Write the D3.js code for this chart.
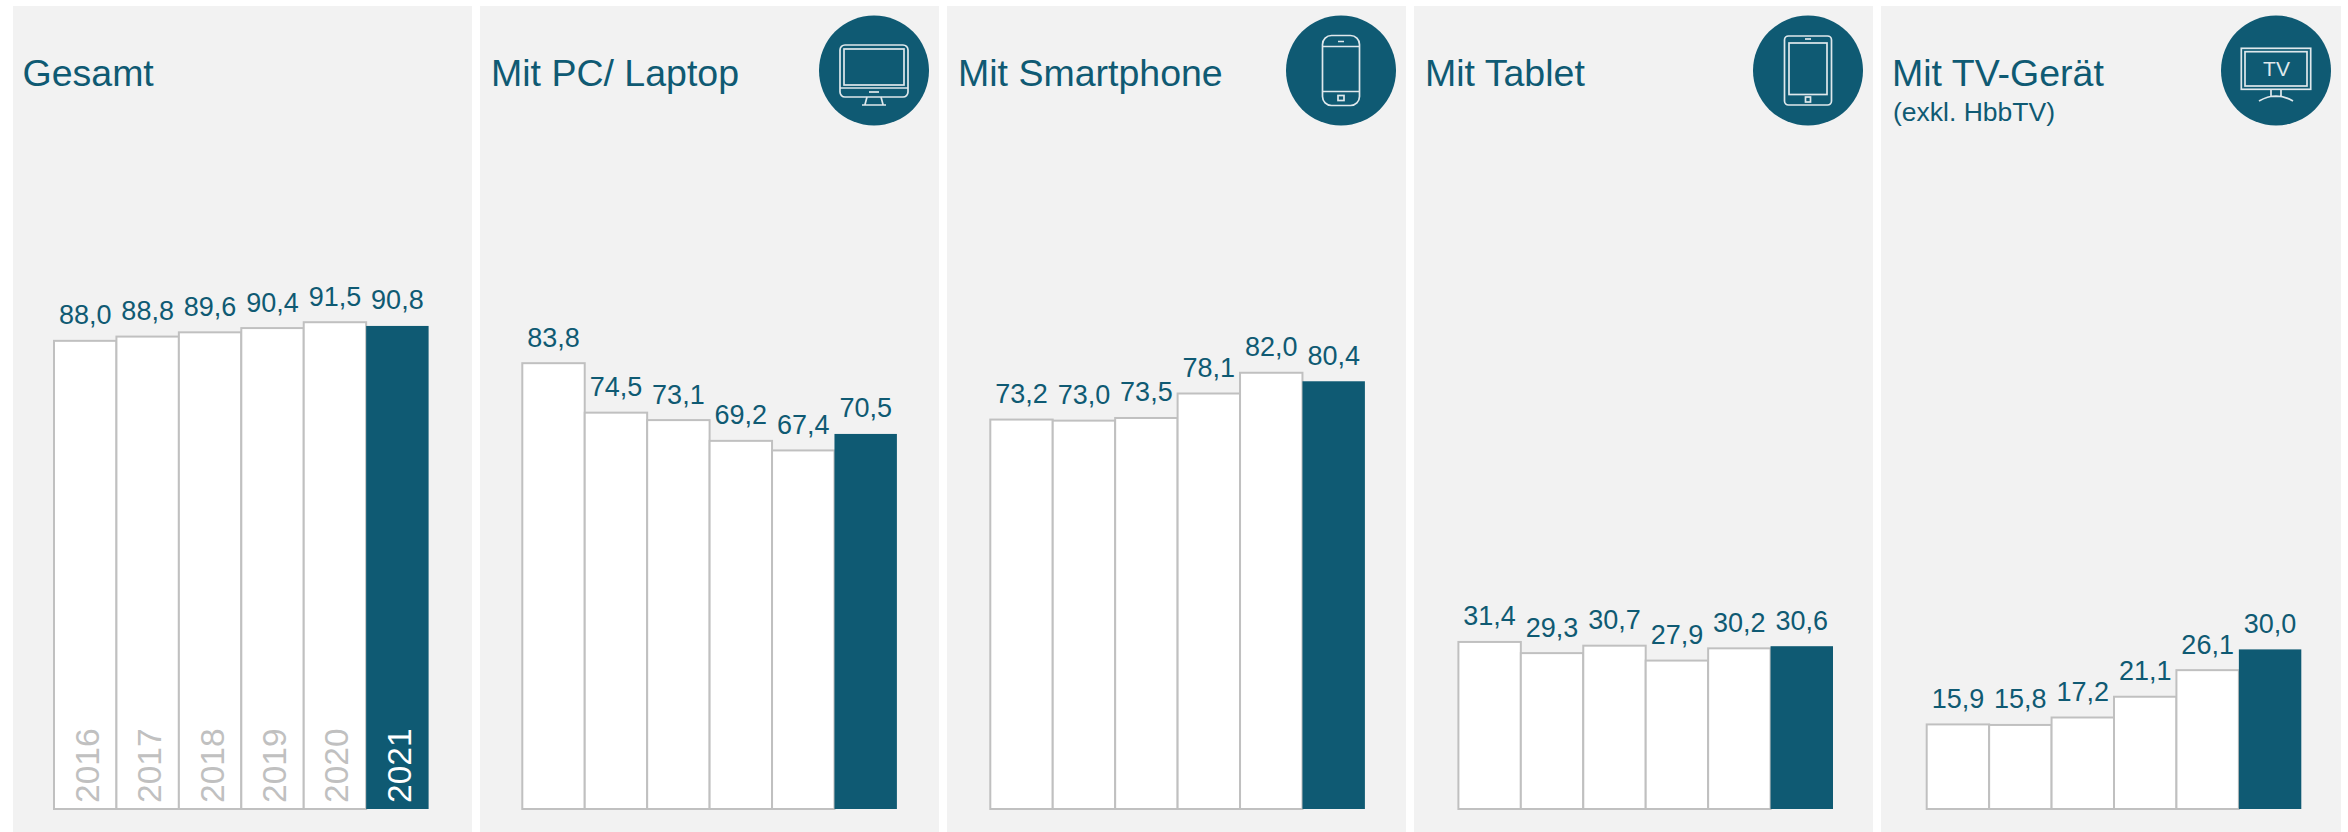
<!DOCTYPE html>
<html><head><meta charset="utf-8">
<script src="https://cdnjs.cloudflare.com/ajax/libs/d3/7.8.5/d3.min.js"></script>
<style>html,body{margin:0;padding:0;background:#fff}svg{display:block}text{font-family:"Liberation Sans",Arial,sans-serif}</style>
</head><body><svg id="c" width="2348" height="832"></svg>
<script>
const years = ["2016","2017","2018","2019","2020","2021"];
const titles = ["Gesamt","Mit PC/ Laptop","Mit Smartphone","Mit Tablet","Mit TV-Gerät"];
const subtitles = ["","","","","(exkl. HbbTV)"];
const gesamt = [88.0,88.8,89.6,90.4,91.5,90.8];
const pc = [83.8,74.5,73.1,69.2,67.4,70.5];
const smartphone = [73.2,73.0,73.5,78.1,82.0,80.4];
const tablet = [31.4,29.3,30.7,27.9,30.2,30.6];
const tv = [15.9,15.8,17.2,21.1,26.1,30.0];
const seriesList = [gesamt,pc,smartphone,tablet,tv];
const panelLeft = [13,480,947,1414,1881];
const panelRight = [472,939,1406,1873,2341];
const barLeft = [54,522.3,990.3,1458.4,1926.7];
const icons = [null,"pc","phone","tablet","tv"];
const iconX = [0,874,1341,1808,2276];
const teal = "#0f5a73", grey = "#c0c0c0", bg = "#f2f2f2";
const barW = 374.6, baseY = 809, topY = 6;
const fmt = v => v.toFixed(1).replace(".",",");
const y = d3.scaleLinear().domain([0,100]).range([baseY, baseY-532]);
const svg = d3.select("#c");

const iconDraw = {
  pc(g){
    g.append("rect").attr("x",-34).attr("y",-25.5).attr("width",68).attr("height",52).attr("rx",5);
    g.append("rect").attr("x",-30).attr("y",-21.5).attr("width",60).attr("height",36);
    g.append("line").attr("x1",-34).attr("x2",34).attr("y1",17.5).attr("y2",17.5);
    g.append("line").attr("x1",-5).attr("x2",5).attr("y1",21.5).attr("y2",21.5);
    g.append("path").attr("d","M-7 26.5L-9 34M7 26.5L9 34M-12 34.5H12");
  },
  phone(g){
    g.append("rect").attr("x",-18.5).attr("y",-35).attr("width",37).attr("height",70).attr("rx",9);
    g.append("path").attr("d","M-18.5 -24H18.5M-18.5 21H18.5M-3 -29H3");
    g.append("rect").attr("x",-3).attr("y",25).attr("width",6).attr("height",5);
  },
  tablet(g){
    g.append("rect").attr("x",-23.5).attr("y",-34.5).attr("width",47).attr("height",69).attr("rx",4);
    g.append("rect").attr("x",-19).attr("y",-27.5).attr("width",38).attr("height",51.5);
    g.append("path").attr("d","M-3 -31.5H3");
    g.append("rect").attr("x",-2.5).attr("y",26.5).attr("width",5).attr("height",5);
  },
  tv(g){
    g.append("rect").attr("x",-34.7).attr("y",-22.2).attr("width",69.4).attr("height",41);
    g.append("rect").attr("x",-31).attr("y",-18.8).attr("width",62).attr("height",34.3);
    g.append("path").attr("d","M-5 18.8V26M5 18.8V26M-5 26H5M-17 30.5Q0 20.5 17 30.5");
    g.append("text").attr("x",0.5).attr("y",5.5).attr("text-anchor","middle").attr("font-size",21)
      .attr("fill","#dfe8ec").attr("stroke","none").text("TV");
  }
};

seriesList.forEach((values,i)=>{
  const p = svg.append("g");
  p.append("rect").attr("x",panelLeft[i]).attr("y",topY)
    .attr("width",panelRight[i]-panelLeft[i]).attr("height",832-topY).attr("fill",bg);
  p.append("text").attr("x",panelLeft[i]+(i===0?9.5:11)).attr("y",86).attr("font-size",37.5).attr("fill",teal).text(titles[i]);
  if(subtitles[i]) p.append("text").attr("x",panelLeft[i]+12).attr("y",120.5).attr("font-size",26.5).attr("fill",teal).text(subtitles[i]);

  const x = d3.scaleBand().domain(years).range([barLeft[i],barLeft[i]+barW]);
  const data = years.map((yr,j)=>({yr,v:values[j],last:j===years.length-1}));
  p.selectAll("rect.bar").data(data).join("rect").attr("class","bar")
    .attr("x",d=>x(d.yr))
    .attr("y",d=>y(d.v))
    .attr("width",x.bandwidth())
    .attr("height",d=>baseY-y(d.v))
    .attr("fill",d=>d.last?teal:"#fff")
    .attr("stroke",d=>d.last?"none":grey)
    .attr("stroke-width",2);
  p.selectAll("text.val").data(data).join("text").attr("class","val")
    .attr("x",d=>x(d.yr)+x.bandwidth()/2)
    .attr("y",d=>y(d.v)-16.5)
    .attr("text-anchor","middle").attr("font-size",27).attr("fill",teal)
    .text(d=>fmt(d.v));
  if(i===0){
    p.selectAll("text.yr").data(data).join("text").attr("class","yr")
      .attr("transform",d=>`translate(${x(d.yr)+x.bandwidth()/2+13.5},${baseY-6}) rotate(-90)`)
      .attr("font-size",33.5).attr("fill",d=>d.last?"#fff":grey)
      .text(d=>d.yr);
  }
  if(icons[i]){
    const g = p.append("g").attr("transform",`translate(${iconX[i]},70.5)`);
    g.append("circle").attr("r",55).attr("fill",teal);
    const ig = g.append("g").attr("fill","none").attr("stroke","#dfe8ec").attr("stroke-width",1.7);
    iconDraw[icons[i]](ig);
  }
});
</script></body></html>
